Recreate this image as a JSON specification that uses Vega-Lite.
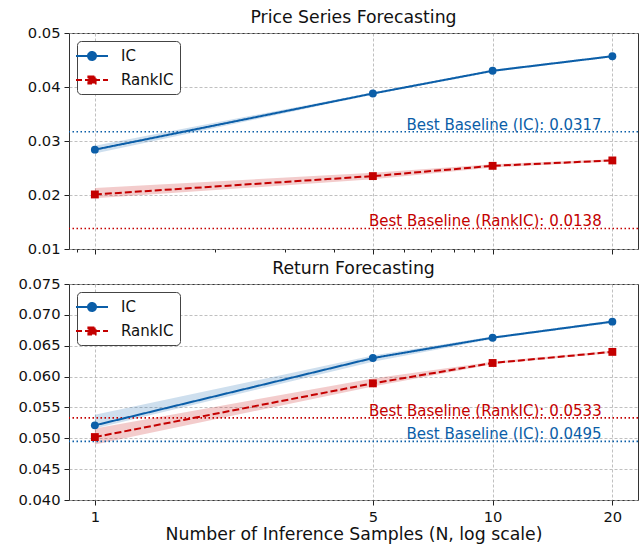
{
  "$schema": "https://vega.github.io/schema/vega-lite/v6.json",
  "autosize": {"type": "pad"},
  "padding": {"left": 17, "top": 8, "right": 0, "bottom": 0},
  "background": "white",
  "config": {
    "font": "DejaVu Sans",
    "view": {"stroke": "#333333", "strokeWidth": 1},
    "axis": {
      "domain": false,
      "tickColor": "#222222",
      "tickSize": 5,
      "labelFont": "DejaVu Sans",
      "labelFontSize": 14.7,
      "labelColor": "#111111",
      "labelPadding": 4,
      "labelOverlap": false,
      "labelBound": false,
      "labelFlush": false,
      "gridColor": "#b0b0b0",
      "gridDash": [3, 2],
      "gridWidth": 0.8,
      "titleFont": "DejaVu Sans",
      "titleFontWeight": "normal",
      "titleColor": "#111111"
    },
    "title": {"font": "DejaVu Sans", "fontSize": 17.3, "fontWeight": "normal", "color": "#111111", "offset": -1, "frame": "group"}
  },
  "datasets": {
    "series": [
      {"task": "Price Series Forecasting", "series": "IC", "n": 1, "value": 0.0284, "lo": 0.0277, "hi": 0.0291},
      {"task": "Price Series Forecasting", "series": "IC", "n": 5, "value": 0.0388, "lo": 0.0386, "hi": 0.0390},
      {"task": "Price Series Forecasting", "series": "IC", "n": 10, "value": 0.0430, "lo": 0.0428, "hi": 0.0432},
      {"task": "Price Series Forecasting", "series": "IC", "n": 20, "value": 0.0457, "lo": 0.0455, "hi": 0.0459},
      {"task": "Price Series Forecasting", "series": "RankIC", "n": 1, "value": 0.0201, "lo": 0.0194, "hi": 0.0213},
      {"task": "Price Series Forecasting", "series": "RankIC", "n": 5, "value": 0.0235, "lo": 0.0229, "hi": 0.0241},
      {"task": "Price Series Forecasting", "series": "RankIC", "n": 10, "value": 0.0254, "lo": 0.0251, "hi": 0.0257},
      {"task": "Price Series Forecasting", "series": "RankIC", "n": 20, "value": 0.0264, "lo": 0.0262, "hi": 0.0266},
      {"task": "Return Forecasting", "series": "IC", "n": 1, "value": 0.0521, "lo": 0.0516, "hi": 0.0538},
      {"task": "Return Forecasting", "series": "IC", "n": 5, "value": 0.0630, "lo": 0.0624, "hi": 0.0634},
      {"task": "Return Forecasting", "series": "IC", "n": 10, "value": 0.0663, "lo": 0.0661, "hi": 0.0665},
      {"task": "Return Forecasting", "series": "IC", "n": 20, "value": 0.0689, "lo": 0.0687, "hi": 0.0691},
      {"task": "Return Forecasting", "series": "RankIC", "n": 1, "value": 0.0502, "lo": 0.0490, "hi": 0.0516},
      {"task": "Return Forecasting", "series": "RankIC", "n": 5, "value": 0.0589, "lo": 0.0584, "hi": 0.0597},
      {"task": "Return Forecasting", "series": "RankIC", "n": 10, "value": 0.0622, "lo": 0.0620, "hi": 0.0624},
      {"task": "Return Forecasting", "series": "RankIC", "n": 20, "value": 0.0640, "lo": 0.0638, "hi": 0.0642}
    ],
    "baselines": [
      {"task": "Price Series Forecasting", "series": "IC", "value": 0.0317, "label": "Best Baseline (IC): 0.0317"},
      {"task": "Price Series Forecasting", "series": "RankIC", "value": 0.0138, "label": "Best Baseline (RankIC): 0.0138"},
      {"task": "Return Forecasting", "series": "IC", "value": 0.0495, "label": "Best Baseline (IC): 0.0495"},
      {"task": "Return Forecasting", "series": "RankIC", "value": 0.0533, "label": "Best Baseline (RankIC): 0.0533"}
    ]
  },
  "vconcat": [
    {
      "width": 569,
      "height": 216,
      "title": {"text": "Price Series Forecasting"},
      "layer": [
        {
          "data": {"name": "series"},
          "transform": [{"filter": "datum.task === 'Price Series Forecasting'"}],
          "mark": {"type": "area", "fillOpacity": 0.2},
          "encoding": {
            "x": {"field": "n", "type": "quantitative", "scale": {"type": "log", "domain": [0.861, 23.2], "nice": false},
                  "axis": {"values": [0.9, 1, 2, 3, 4, 5, 6, 7, 8, 9, 10, 20], "labels": false, "title": null,
                           "tickSize": {"condition": {"test": "indexof([1,5,10,20], datum.value) >= 0", "value": 5}, "value": 3},
                           "gridOpacity": {"condition": {"test": "indexof([1,5,10,20], datum.value) >= 0", "value": 1}, "value": 0}}},
            "y": {"field": "lo", "type": "quantitative", "scale": {"domain": [0.01, 0.05], "nice": false, "zero": false},
                  "axis": {"values": [0.01, 0.02, 0.03, 0.04, 0.05], "format": ".2f", "title": null}},
            "y2": {"field": "hi"},
            "fill": {"field": "series", "type": "nominal", "scale": {"domain": ["RankIC", "IC"], "range": ["#c40000", "#0b5ea8"]}, "legend": null}
          }
        },
        {
          "data": {"name": "baselines"},
          "transform": [{"filter": "datum.task === 'Price Series Forecasting'"}],
          "mark": {"type": "rule", "strokeDash": [1.5, 2.5], "strokeWidth": 1.6},
          "encoding": {
            "y": {"field": "value", "type": "quantitative", "axis": {"values": [0.01, 0.02, 0.03, 0.04, 0.05], "format": ".2f", "title": null}},
            "stroke": {"field": "series", "type": "nominal", "scale": {"domain": ["RankIC", "IC"], "range": ["#c40000", "#0b5ea8"]}, "legend": null}
          }
        },
        {
          "data": {"name": "baselines"},
          "transform": [{"filter": "datum.task === 'Price Series Forecasting'"}],
          "mark": {"type": "text", "align": "right", "baseline": "bottom", "dy": 1, "fontSize": 15, "font": "DejaVu Sans"},
          "encoding": {
            "x": {"datum": 18.8},
            "y": {"field": "value", "type": "quantitative", "axis": {"values": [0.01, 0.02, 0.03, 0.04, 0.05], "format": ".2f", "title": null}},
            "text": {"field": "label"},
            "fill": {"field": "series", "type": "nominal", "legend": null}
          }
        },
        {
          "data": {"name": "series"},
          "transform": [{"filter": "datum.task === 'Price Series Forecasting'"}],
          "mark": {"type": "line", "strokeWidth": 2},
          "encoding": {
            "x": {"field": "n", "type": "quantitative"},
            "y": {"field": "value", "type": "quantitative", "axis": {"values": [0.01, 0.02, 0.03, 0.04, 0.05], "format": ".2f", "title": null}},
            "color": {"field": "series", "type": "nominal", "scale": {"domain": ["IC", "RankIC"], "range": ["#0b5ea8", "#c40000"]},
                      "legend": {"title": null, "orient": "top-left", "offset": 8, "strokeColor": "#444444", "fillColor": "white", "cornerRadius": 4, "padding": 6,
                                 "labelFont": "DejaVu Sans", "labelFontSize": 15, "labelColor": "#111111", "symbolSize": 256, "labelOffset": 20, "rowPadding": 7,
                                 "encode": {"symbols": {"update": {
                        "shape": {"signal": "datum.value === 'IC' ? 'M-2,0H2M0.5,0A0.5,0.5,0,1,1,-0.5,0A0.5,0.5,0,1,1,0.5,0Z' : 'M-2,0H2M-0.45,-0.45H0.45V0.45H-0.45Z'"},
                        "fill": {"signal": "datum.value === 'IC' ? '#0b5ea8' : '#c40000'"},
                        "stroke": {"signal": "datum.value === 'IC' ? '#0b5ea8' : '#c40000'"},
                        "strokeDash": {"signal": "datum.value === 'IC' ? [1,0] : [6,3]"},
                        "strokeWidth": {"value": 2},
                        "opacity": {"value": 1},
                        "fillOpacity": {"value": 1},
                        "strokeOpacity": {"value": 1}
                      }}}}},
            "strokeDash": {"field": "series", "type": "nominal", "scale": {"domain": ["RankIC", "IC"], "range": [[7, 3], [1, 0]]}, "legend": null}
          }
        },
        {
          "data": {"name": "series"},
          "transform": [{"filter": "datum.task === 'Price Series Forecasting'"}],
          "mark": {"type": "point", "filled": true, "opacity": 1, "size": 62},
          "encoding": {
            "x": {"field": "n", "type": "quantitative"},
            "y": {"field": "value", "type": "quantitative", "axis": {"values": [0.01, 0.02, 0.03, 0.04, 0.05], "format": ".2f", "title": null}},
            "fill": {"field": "series", "type": "nominal", "legend": null},
            "shape": {"field": "series", "type": "nominal", "scale": {"domain": ["RankIC", "IC"], "range": ["square", "circle"]}, "legend": null}
          }
        }
      ]
    },
    {
      "width": 569,
      "height": 216,
      "title": {"text": "Return Forecasting"},
      "layer": [
        {
          "data": {"name": "series"},
          "transform": [{"filter": "datum.task === 'Return Forecasting'"}],
          "mark": {"type": "area", "fillOpacity": 0.2},
          "encoding": {
            "x": {"field": "n", "type": "quantitative", "scale": {"type": "log", "domain": [0.861, 23.2], "nice": false},
                  "axis": {"values": [1, 5, 10, 20], "format": "d", "title": "Number of Inference Samples (N, log scale)", "titleFontSize": 17.3, "titlePadding": 2}},
            "y": {"field": "lo", "type": "quantitative", "scale": {"domain": [0.04, 0.075], "nice": false, "zero": false},
                  "axis": {"values": [0.04, 0.045, 0.05, 0.055, 0.06, 0.065, 0.07, 0.075], "format": ".3f", "title": null}},
            "y2": {"field": "hi"},
            "fill": {"field": "series", "type": "nominal", "scale": {"domain": ["RankIC", "IC"], "range": ["#c40000", "#0b5ea8"]}, "legend": null}
          }
        },
        {
          "data": {"name": "baselines"},
          "transform": [{"filter": "datum.task === 'Return Forecasting'"}],
          "mark": {"type": "rule", "strokeDash": [1.5, 2.5], "strokeWidth": 1.6},
          "encoding": {
            "y": {"field": "value", "type": "quantitative", "axis": {"values": [0.04, 0.045, 0.05, 0.055, 0.06, 0.065, 0.07, 0.075], "format": ".3f", "title": null}},
            "stroke": {"field": "series", "type": "nominal", "scale": {"domain": ["RankIC", "IC"], "range": ["#c40000", "#0b5ea8"]}, "legend": null}
          }
        },
        {
          "data": {"name": "baselines"},
          "transform": [{"filter": "datum.task === 'Return Forecasting'"}],
          "mark": {"type": "text", "align": "right", "baseline": "bottom", "dy": 1, "fontSize": 15, "font": "DejaVu Sans"},
          "encoding": {
            "x": {"datum": 18.8},
            "y": {"field": "value", "type": "quantitative", "axis": {"values": [0.04, 0.045, 0.05, 0.055, 0.06, 0.065, 0.07, 0.075], "format": ".3f", "title": null}},
            "text": {"field": "label"},
            "fill": {"field": "series", "type": "nominal", "legend": null}
          }
        },
        {
          "data": {"name": "series"},
          "transform": [{"filter": "datum.task === 'Return Forecasting'"}],
          "mark": {"type": "line", "strokeWidth": 2},
          "encoding": {
            "x": {"field": "n", "type": "quantitative"},
            "y": {"field": "value", "type": "quantitative", "axis": {"values": [0.04, 0.045, 0.05, 0.055, 0.06, 0.065, 0.07, 0.075], "format": ".3f", "title": null}},
            "color": {"field": "series", "type": "nominal", "scale": {"domain": ["IC", "RankIC"], "range": ["#0b5ea8", "#c40000"]},
                      "legend": {"title": null, "orient": "top-left", "offset": 8, "strokeColor": "#444444", "fillColor": "white", "cornerRadius": 4, "padding": 6,
                                 "labelFont": "DejaVu Sans", "labelFontSize": 15, "labelColor": "#111111", "symbolSize": 256, "labelOffset": 20, "rowPadding": 7,
                                 "encode": {"symbols": {"update": {
                        "shape": {"signal": "datum.value === 'IC' ? 'M-2,0H2M0.5,0A0.5,0.5,0,1,1,-0.5,0A0.5,0.5,0,1,1,0.5,0Z' : 'M-2,0H2M-0.45,-0.45H0.45V0.45H-0.45Z'"},
                        "fill": {"signal": "datum.value === 'IC' ? '#0b5ea8' : '#c40000'"},
                        "stroke": {"signal": "datum.value === 'IC' ? '#0b5ea8' : '#c40000'"},
                        "strokeDash": {"signal": "datum.value === 'IC' ? [1,0] : [6,3]"},
                        "strokeWidth": {"value": 2},
                        "opacity": {"value": 1},
                        "fillOpacity": {"value": 1},
                        "strokeOpacity": {"value": 1}
                      }}}}},
            "strokeDash": {"field": "series", "type": "nominal", "scale": {"domain": ["RankIC", "IC"], "range": [[7, 3], [1, 0]]}, "legend": null}
          }
        },
        {
          "data": {"name": "series"},
          "transform": [{"filter": "datum.task === 'Return Forecasting'"}],
          "mark": {"type": "point", "filled": true, "opacity": 1, "size": 62},
          "encoding": {
            "x": {"field": "n", "type": "quantitative"},
            "y": {"field": "value", "type": "quantitative", "axis": {"values": [0.04, 0.045, 0.05, 0.055, 0.06, 0.065, 0.07, 0.075], "format": ".3f", "title": null}},
            "fill": {"field": "series", "type": "nominal", "legend": null},
            "shape": {"field": "series", "type": "nominal", "scale": {"domain": ["RankIC", "IC"], "range": ["square", "circle"]}, "legend": null}
          }
        }
      ]
    }
  ],
  "resolve": {"scale": {"x": "independent", "y": "independent", "color": "independent", "fill": "independent", "stroke": "independent", "strokeDash": "independent", "shape": "independent"}, "legend": {"color": "independent", "fill": "independent", "stroke": "independent", "strokeDash": "independent", "shape": "independent"}},
  "bounds": "flush",
  "spacing": 35
}
